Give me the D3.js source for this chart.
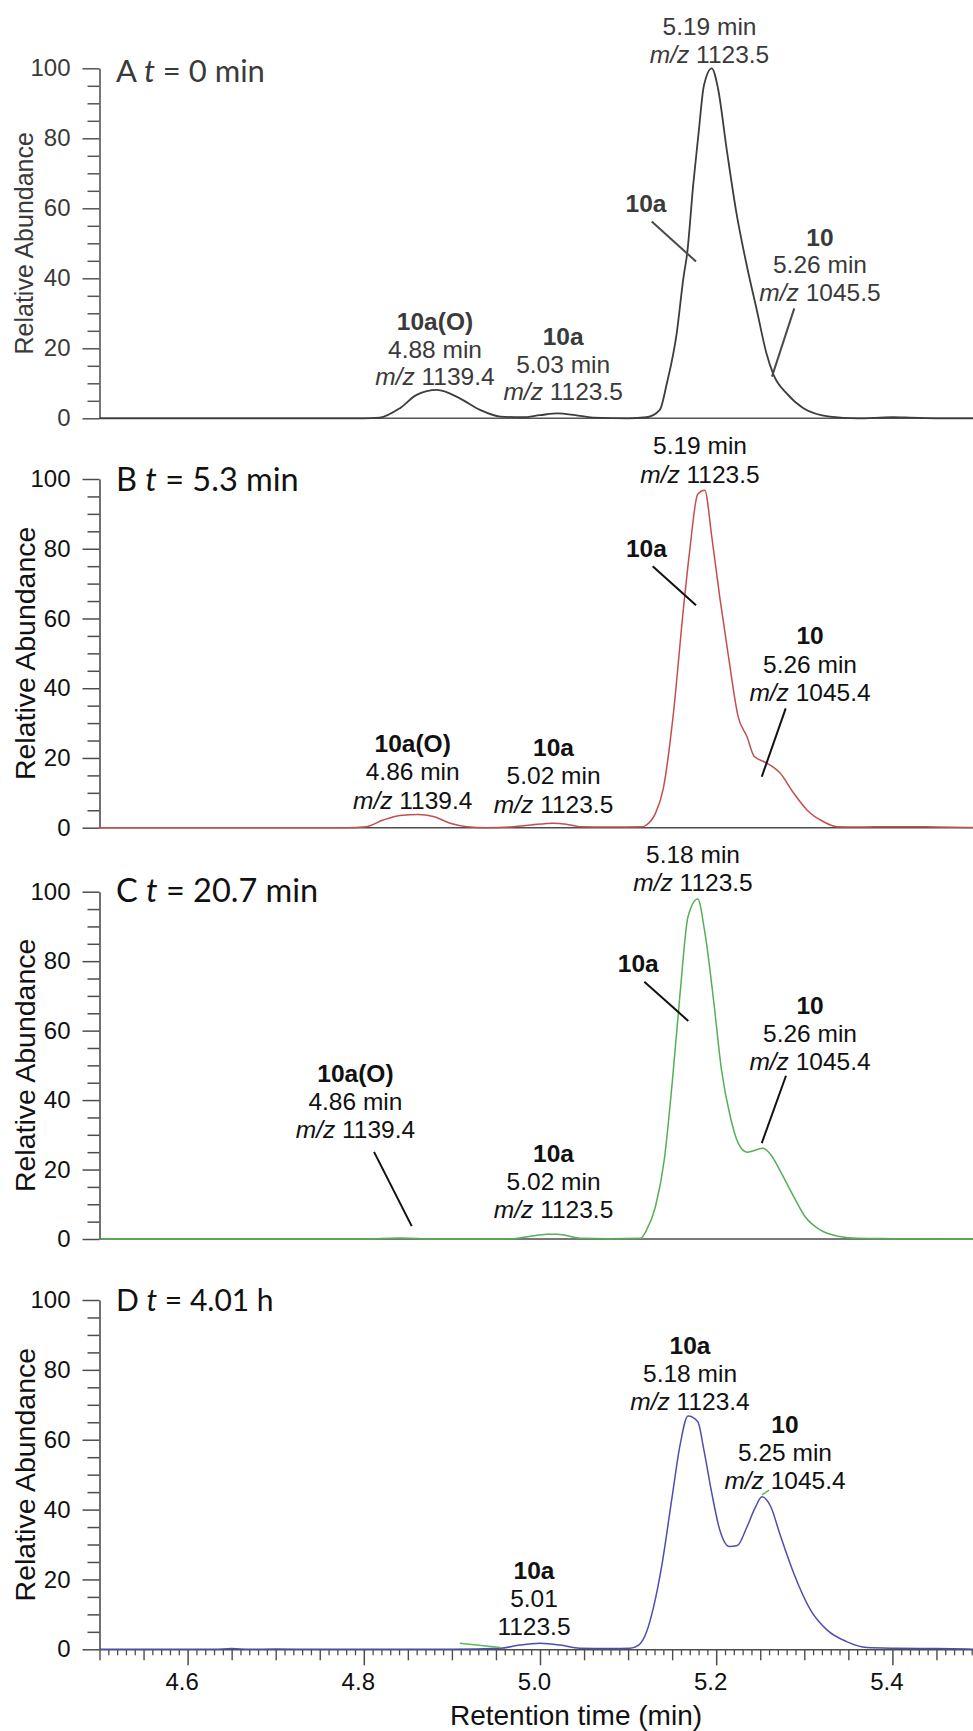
<!DOCTYPE html>
<html>
<head>
<meta charset="utf-8">
<script src="https://cdn.jsdelivr.net/npm/d3@7"></script>
<style>
  body { margin: 0; background: #fff; }
  svg { display: block; }
</style>
</head>
<body>
<svg id="chart" width="973" height="1731"></svg>
<script>
// Extracted ion chromatograms: relative abundance (%) against retention time (min)

// A, t = 0 min
const rtA = [4.50,4.60,4.70,4.80,4.818,4.841,4.86,4.883,4.909,4.932,4.955,4.98,5.00,5.02,5.04,5.06,5.10,5.121,5.136,5.144,5.155,5.163,5.167,5.174,5.18,5.186,5.195,5.202,5.212,5.223,5.235,5.246,5.257,5.265,5.28,5.299,5.329,5.36,5.40,5.42,5.45,5.50];
const abA = [0,0,0,0,0.2,2.9,6.7,8.1,5.7,2.4,0.5,0.3,0.9,1.4,0.9,0.2,0,0.3,2.4,10,24,40.5,47,67,81.5,95,100,94.3,76.7,58.6,43.3,31,18.6,12.5,7.1,2.9,0.5,0,0.3,0.2,0,0];

// B, t = 5.3 min
const rtB = [4.50,4.60,4.70,4.78,4.803,4.822,4.841,4.862,4.879,4.898,4.917,4.94,4.97,4.99,5.015,5.03,5.045,5.08,5.117,5.121,5.131,5.14,5.151,5.163,5.170,5.179,5.187,5.195,5.204,5.214,5.225,5.235,5.243,5.257,5.272,5.288,5.303,5.322,5.337,5.36,5.40,5.45,5.50];
const abB = [0,0,0,0,0.3,2.2,3.5,3.8,3.2,1.3,0.3,0,0.3,0.8,1.3,1.0,0.3,0.2,0.3,0.8,4.1,11.3,31.8,63.3,79.6,95.6,96.8,83.4,66.2,49.0,31.8,26.1,20.5,18.6,15.8,9.9,5.1,1.7,0.3,0.2,0.3,0.2,0];

// C, t = 20.7 min
const rtC = [4.50,4.60,4.70,4.80,4.841,4.88,4.95,4.97,4.989,5.008,5.019,5.03,5.045,5.08,5.114,5.121,5.131,5.141,5.150,5.159,5.168,5.179,5.187,5.197,5.206,5.216,5.225,5.235,5.253,5.263,5.272,5.288,5.301,5.318,5.34,5.36,5.40,5.50];
const abC = [0,0,0,0,0.3,0,0,0.1,0.8,1.35,1.4,1.0,0.2,0.1,0.2,2.6,9.3,22.7,44.8,70.7,92.8,97.9,88.5,68.8,48.7,35.2,27.6,25.0,26.1,23.9,19.9,12.2,6.4,2.6,0.7,0.2,0.1,0];

// D, t = 4.01 h
const rtD = [4.50,4.60,4.63,4.65,4.67,4.70,4.75,4.80,4.90,4.955,4.977,5.000,5.023,5.045,5.08,5.102,5.112,5.121,5.129,5.138,5.150,5.159,5.168,5.179,5.186,5.195,5.204,5.215,5.224,5.235,5.244,5.252,5.262,5.272,5.288,5.307,5.326,5.348,5.371,5.405,5.45,5.50];
const abD = [0,0,0,0.2,0,0.1,0,0,0,0.3,1.2,1.7,1.2,0.3,0.2,0.3,1.2,5.0,12.2,23.6,43.7,58.5,66.8,65.2,57.1,44.7,34.2,29.4,29.7,35.1,40.4,43.7,40.8,33.2,21.8,11.3,5.5,2.2,0.5,0.3,0.2,0];

// short green trace fragments visible in panel D
const rtG1 = [4.909, 4.955];
const abG1 = [1.7, 0.5];
const rtG2 = [5.252, 5.260];
const abG2 = [44.2, 45.6];

// axis ticks
const yMajor = [0, 20, 40, 60, 80, 100];
const yMinor = [5,10,15,25,30,35,45,50,55,65,70,75,85,90,95];
const xMajor = [4.6, 4.8, 5.0, 5.2, 5.4];

// panel titles
const panelLetters = ["A", "B", "C", "D"];
const panelTimes = [" = 0 min", " = 5.3 min", " = 20.7 min", " = 4.01 h"];

// peak annotations: anchor (rt, abundance of first baseline), bold head, text lines
const annA = [
  {rt: 5.1924, ab: 109.5, head: null, lines: ["5.19 min", "m/z 1123.5"]},
  {rt: 5.1203, ab: 58.9, head: "10a", lines: []},
  {rt: 5.3178, ab: 49.3, head: "10", lines: ["5.26 min", "m/z 1045.5"]},
  {rt: 4.8808, ab: 25.2, head: "10a(O)", lines: ["4.88 min", "m/z 1139.4"]},
  {rt: 5.0263, ab: 20.9, head: "10a", lines: ["5.03 min", "m/z 1123.5"]}
];
const annB = [
  {rt: 5.1816, ab: 107.1, head: null, lines: ["5.19 min", "m/z 1123.5"]},
  {rt: 5.1207, ab: 77.5, head: "10a", lines: []},
  {rt: 5.3065, ab: 52.6, head: "10", lines: ["5.26 min", "m/z 1045.4"]},
  {rt: 5.0154, ab: 20.6, head: "10a", lines: ["5.02 min", "m/z 1123.5"]},
  {rt: 4.8555, ab: 21.8, head: "10a(O)", lines: ["4.86 min", "m/z 1139.4"]}
];
const annC = [
  {rt: 5.1737, ab: 108.2, head: null, lines: ["5.18 min", "m/z 1123.5"]},
  {rt: 5.1116, ab: 76.8, head: "10a", lines: []},
  {rt: 5.3065, ab: 64.7, head: "10", lines: ["5.26 min", "m/z 1045.4"]},
  {rt: 5.0154, ab: 22.1, head: "10a", lines: ["5.02 min", "m/z 1123.5"]},
  {rt: 4.7905, ab: 45.1, head: "10a(O)", lines: ["4.86 min", "m/z 1139.4"]}
];
const annD = [
  {rt: 5.1703, ab: 84.5, head: "10a", lines: ["5.18 min", "m/z 1123.4"]},
  {rt: 5.2781, ab: 61.8, head: "10", lines: ["5.25 min", "m/z 1045.4"]},
  {rt: 4.9932, ab: 20.0, head: "10a", lines: ["5.01", "1123.5"]}
];

// leader lines: [rt1, ab1, rt2, ab2]
const leadA = [[5.1268, 56.2, 5.1771, 44.8], [5.2886, 31.4, 5.2633, 11.9]];
const leadB = [[5.1279, 75.0, 5.1771, 63.8], [5.2789, 34.2, 5.2517, 14.6]];
const leadC = [[5.1184, 74.1, 5.1683, 62.8], [5.2792, 47.0, 5.2517, 27.6], [4.8116, 25.1, 4.8544, 3.7]];
const leadD = [];

// ---- layout ----
const FONT = "'Liberation Sans', Arial, Helvetica, sans-serif";
const TITLE_FONT = "Lato, 'Open Sans', sans-serif";

const panels = [
  {rt: rtA, ab: abA, ann: annA, lead: leadA, color: "#3d3d3d", text: "#3a3a3a", leadColor: "#4a4a4a",
   y0: 418.3, y100: 68.3, lineGap: 27.5, titleFont: TITLE_FONT, titleSize: 31, titleBase: 81.7,
   ylabSize: 25, ylabX: 33},
  {rt: rtB, ab: abB, ann: annB, lead: leadB, color: "#c0504d", text: "#111", leadColor: "#111",
   y0: 827.7, y100: 479, lineGap: 28.5, titleFont: TITLE_FONT, titleSize: 32.5, titleBase: 490.7,
   ylabSize: 28.5, ylabX: 35},
  {rt: rtC, ab: abC, ann: annC, lead: leadC, color: "#55b055", text: "#111", leadColor: "#111",
   y0: 1239, y100: 891.7, lineGap: 28, titleFont: TITLE_FONT, titleSize: 32.5, titleBase: 902.3,
   ylabSize: 28.5, ylabX: 35},
  {rt: rtD, ab: abD, ann: annD, lead: leadD, color: "#4e4eae", text: "#111", leadColor: "#111",
   y0: 1649.3, y100: 1300, lineGap: 28, titleFont: TITLE_FONT, titleSize: 30, titleBase: 1311,
   ylabSize: 28.5, ylabX: 35}
];

const svg = d3.select("#chart");
const x = d3.scaleLinear().domain([4.5, 5.5]).range([99.5, 980.5]);
const AXIS = "#4d4d4d";

panels.forEach((p, i) => {
  const y = d3.scaleLinear().domain([0, 100]).range([p.y0, p.y100]);
  const g = svg.append("g").attr("class", "panel-" + panelLetters[i]);
  const axisCol = i === 0 ? "#555" : AXIS;

  // y axis: minor ticks every 5
  g.append("g")
    .attr("transform", `translate(${x(4.5)},0)`)
    .call(d3.axisLeft(y).tickValues(yMinor).tickSize(12).tickFormat(""))
    .call(a => a.select(".domain").remove())
    .call(a => a.selectAll("line").attr("stroke", axisCol).attr("stroke-width", 1.5));

  // y axis: major ticks and labels
  g.append("g")
    .attr("transform", `translate(${x(4.5)},0)`)
    .call(d3.axisLeft(y).tickValues(yMajor).tickSize(17).tickSizeOuter(0).tickPadding(12).tickFormat(d3.format("d")))
    .call(a => a.select(".domain").attr("stroke", axisCol).attr("stroke-width", 1.6))
    .call(a => a.selectAll("line").attr("stroke", axisCol).attr("stroke-width", 1.5))
    .call(a => a.selectAll("text").attr("font-family", FONT).attr("font-size", 24).attr("fill", i === 0 ? "#3a3a3a" : "#111"));

  // baseline (x axis line)
  if (i < 3) {
    g.append("line")
      .attr("x1", x(4.5)).attr("x2", x(5.5))
      .attr("y1", y(0)).attr("y2", y(0))
      .attr("stroke", axisCol).attr("stroke-width", 1.6);
  } else {
    const minorX = d3.range(450, 551).filter(v => v % 5 !== 0).map(v => v / 100);
    const midX = d3.range(450, 551, 5).filter(v => v % 20 !== 0).map(v => v / 100);
    g.append("g").attr("transform", `translate(0,${y(0)})`)
      .call(d3.axisBottom(x).tickValues(minorX).tickSize(6).tickFormat(""))
      .call(a => a.select(".domain").remove())
      .call(a => a.selectAll("line").attr("stroke", AXIS).attr("stroke-width", 1.3));
    g.append("g").attr("transform", `translate(0,${y(0)})`)
      .call(d3.axisBottom(x).tickValues(midX).tickSize(11).tickFormat(""))
      .call(a => a.select(".domain").remove())
      .call(a => a.selectAll("line").attr("stroke", AXIS).attr("stroke-width", 1.4));
    g.append("g").attr("transform", `translate(0,${y(0)})`)
      .call(d3.axisBottom(x).tickValues(xMajor).tickSize(16).tickSizeOuter(0).tickPadding(8).tickFormat(d3.format(".1f")))
      .call(a => a.select(".domain").attr("stroke", AXIS).attr("stroke-width", 1.6))
      .call(a => a.selectAll("line").attr("stroke", AXIS).attr("stroke-width", 1.5))
      .call(a => a.selectAll("text").attr("font-family", FONT).attr("font-size", 24).attr("fill", "#111").attr("dx", -6));

    // x axis title
    svg.append("text")
      .attr("x", 576).attr("y", 1725)
      .attr("text-anchor", "middle")
      .attr("font-family", FONT).attr("font-size", 28).attr("fill", "#111")
      .text("Retention time (min)");
  }

  // trace
  const line = d3.line().x((d, k) => x(p.rt[k])).y((d, k) => y(p.ab[k])).curve(d3.curveMonotoneX);
  g.append("path")
    .datum(p.ab)
    .attr("d", line)
    .attr("fill", "none")
    .attr("stroke", p.color)
    .attr("stroke-width", i === 0 ? 1.8 : 1.5)
    .attr("stroke-linejoin", "round");

  if (i === 3) {
    [[rtG1, abG1], [rtG2, abG2]].forEach(([r, a]) => {
      g.append("path")
        .datum(a)
        .attr("d", d3.line().x((d, k) => x(r[k])).y(d => y(d)))
        .attr("fill", "none").attr("stroke", "#5cb85c").attr("stroke-width", 1.5);
    });
  }

  // y axis title
  g.append("text")
    .attr("transform", `translate(${p.ylabX},${(y(0) + y(100)) / 2}) rotate(-90)`)
    .attr("text-anchor", "middle")
    .attr("font-family", FONT).attr("font-size", p.ylabSize).attr("fill", p.text)
    .text("Relative Abundance");

  // panel title
  const t = g.append("text")
    .attr("x", 116).attr("y", p.titleBase)
    .attr("font-family", p.titleFont).attr("font-size", p.titleSize).attr("fill", p.text);
  t.append("tspan").text(panelLetters[i] + " ");
  t.append("tspan").attr("font-style", "italic").text("t");
  t.append("tspan").text(panelTimes[i]);

  // leader lines
  p.lead.forEach(L => {
    g.append("line")
      .attr("x1", x(L[0])).attr("y1", y(L[1]))
      .attr("x2", x(L[2])).attr("y2", y(L[3]))
      .attr("stroke", p.leadColor).attr("stroke-width", 2);
  });

  // annotations
  p.ann.forEach(a => {
    const block = g.append("text")
      .attr("text-anchor", "middle")
      .attr("font-family", FONT).attr("font-size", 24.5).attr("fill", p.text);
    const cx = x(a.rt);
    let row = 0;
    const rows = (a.head ? [{bold: true, s: a.head}] : []).concat(a.lines.map(s => ({bold: false, s})));
    rows.forEach(r => {
      const ty = y(a.ab) + row * p.lineGap;
      const ln = block.append("tspan").attr("x", cx).attr("y", ty);
      if (r.bold) {
        ln.attr("font-weight", "bold").text(r.s);
      } else if (r.s.startsWith("m/z ")) {
        ln.append("tspan").attr("font-style", "italic").text("m/z");
        ln.append("tspan").text(" " + r.s.slice(4));
      } else {
        ln.text(r.s);
      }
      row++;
    });
  });
});
</script>
</body>
</html>
